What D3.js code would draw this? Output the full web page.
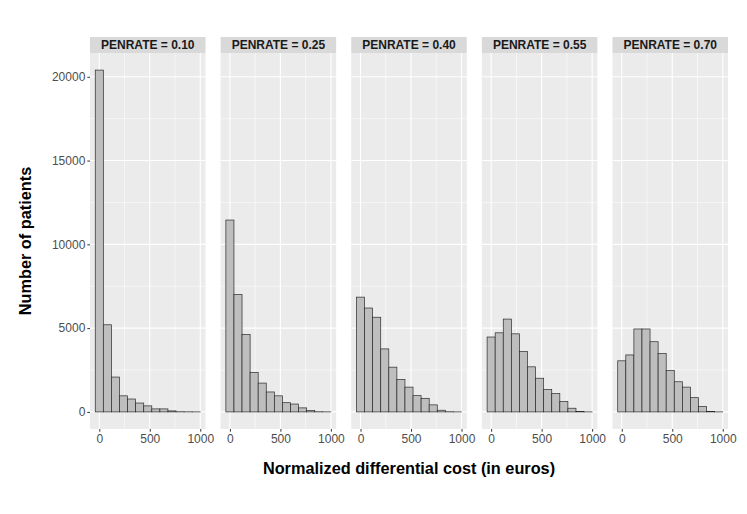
<!DOCTYPE html>
<html>
<head>
<meta charset="utf-8">
<script src="https://cdn.jsdelivr.net/npm/d3@7"></script>
<style>
  body { margin: 0; background: #fff; }
  text { font-family: "Liberation Sans", Arial, sans-serif; }
</style>
</head>
<body>
<div id="chart"></div>
<script>
// bin centres (binwidth 80)
const binCentres = [0, 80, 160, 240, 320, 400, 480, 560, 640, 720, 800, 880, 960];
const binWidth = 80;
const panels = ["PENRATE = 0.10", "PENRATE = 0.25", "PENRATE = 0.40", "PENRATE = 0.55", "PENRATE = 0.70"];

// counts per bin
const counts010 = [20400, 5200, 2080, 960, 770, 530, 360, 180, 180, 60, 10, 5, 2];
const counts025 = [11450, 7000, 4620, 2350, 1720, 1190, 960, 550, 470, 240, 80, 10, 3];
const counts040 = [6850, 6200, 5650, 3760, 2670, 1940, 1480, 970, 810, 420, 100, 10, 2];
const counts055 = [4470, 4720, 5540, 4660, 3600, 2690, 2010, 1330, 1090, 620, 220, 20, 2];
const counts070 = [3050, 3400, 4950, 4950, 4190, 3480, 2470, 1800, 1480, 850, 320, 20, 2];
const allCounts = [counts010, counts025, counts040, counts055, counts070];

const xTicks = [0, 500, 1000];
const yTicks = [0, 5000, 10000, 15000, 20000];

const W = 747, H = 514;
const margin = {top: 37, left: 90, bottom: 85, right: 19};
const stripH = 16;
const gap = 15.1;
const panelW = (W - margin.left - margin.right - 4 * gap) / 5;
const panelTop = margin.top + stripH;
const panelBottom = H - margin.bottom;

const svg = d3.select("#chart").append("svg")
    .attr("width", W)
    .attr("height", H);

// shared scales (ggplot-style 5% expansion)
const xMin = binCentres[0] - binWidth / 2, xMax = binCentres[binCentres.length - 1] + binWidth / 2;
const xPad = (xMax - xMin) * 0.05;
const x = d3.scaleLinear()
    .domain([xMin - xPad, xMax + xPad])
    .range([0, panelW]);

const yMaxVal = d3.max(allCounts, c => d3.max(c));
const yPad = yMaxVal * 0.05;
const y = d3.scaleLinear()
    .domain([-yPad, yMaxVal + yPad])
    .range([panelBottom, panelTop]);

const xMinor = [250, 750];
const yMinor = [2500, 7500, 12500, 17500];

panels.forEach((label, i) => {
    const px = margin.left + i * (panelW + gap);
    const g = svg.append("g").attr("transform", `translate(${px},0)`);

    // panel background
    g.append("rect")
        .attr("x", 0).attr("y", panelTop)
        .attr("width", panelW).attr("height", panelBottom - panelTop)
        .attr("fill", "#ebebeb");

    // minor grid
    g.selectAll(".xminor").data(xMinor).enter().append("line")
        .attr("x1", d => x(d)).attr("x2", d => x(d))
        .attr("y1", panelTop).attr("y2", panelBottom)
        .attr("stroke", "#fff").attr("stroke-width", 0.55);
    g.selectAll(".yminor").data(yMinor).enter().append("line")
        .attr("x1", 0).attr("x2", panelW)
        .attr("y1", d => y(d)).attr("y2", d => y(d))
        .attr("stroke", "#fff").attr("stroke-width", 0.55);

    // major grid
    g.selectAll(".xmajor").data(xTicks).enter().append("line")
        .attr("x1", d => x(d)).attr("x2", d => x(d))
        .attr("y1", panelTop).attr("y2", panelBottom)
        .attr("stroke", "#fff").attr("stroke-width", 1.1);
    g.selectAll(".ymajor").data(yTicks).enter().append("line")
        .attr("x1", 0).attr("x2", panelW)
        .attr("y1", d => y(d)).attr("y2", d => y(d))
        .attr("stroke", "#fff").attr("stroke-width", 1.1);

    // strip
    g.append("rect")
        .attr("x", 0).attr("y", margin.top)
        .attr("width", panelW).attr("height", stripH)
        .attr("fill", "#d9d9d9");
    g.append("text")
        .attr("x", panelW / 2).attr("y", margin.top + stripH / 2 + 4.2)
        .attr("text-anchor", "middle")
        .attr("font-size", 12).attr("font-weight", "bold")
        .attr("fill", "#1a1a1a")
        .text(label);

    // bars
    const bins = binCentres.map((c, j) => ({c: c, n: allCounts[i][j]}));
    g.selectAll(".bar").data(bins).enter().append("rect")
        .attr("class", "bar")
        .attr("x", d => x(d.c - binWidth / 2))
        .attr("width", d => x(d.c + binWidth / 2) - x(d.c - binWidth / 2))
        .attr("y", d => y(d.n))
        .attr("height", d => y(0) - y(d.n))
        .attr("fill", "#bebebe")
        .attr("stroke", "#2a2a2a")
        .attr("stroke-width", 0.7);

    // x axis
    const xAxis = g.append("g")
        .attr("transform", `translate(0,${panelBottom})`)
        .call(d3.axisBottom(x).tickValues(xTicks).tickFormat(d3.format("d")).tickSize(2.7).tickPadding(3));
    xAxis.select(".domain").remove();
    xAxis.selectAll("line").attr("stroke", "#333").attr("stroke-width", 1);
    xAxis.selectAll("text").attr("font-size", 12).attr("fill", "#4d4d4d")
        .attr("font-family", "Liberation Sans, Arial, sans-serif");

    if (i === 0) {
        const yAxis = g.append("g")
            .call(d3.axisLeft(y).tickValues(yTicks).tickFormat(d3.format("d")).tickSize(2.7).tickPadding(2));
        yAxis.select(".domain").remove();
        yAxis.selectAll("line").attr("stroke", "#333").attr("stroke-width", 1);
        yAxis.selectAll("text").attr("font-size", 12).attr("fill", "#4d4d4d")
            .attr("font-family", "Liberation Sans, Arial, sans-serif");
    }
});

// axis titles
const plotLeft = margin.left, plotRight = W - margin.right;
svg.append("text")
    .attr("x", (plotLeft + plotRight) / 2)
    .attr("y", 474)
    .attr("text-anchor", "middle")
    .attr("font-size", 16.3).attr("font-weight", "bold")
    .attr("fill", "#000")
    .text("Normalized differential cost (in euros)");

svg.append("text")
    .attr("transform", `translate(31,${(panelTop + panelBottom) / 2}) rotate(-90)`)
    .attr("text-anchor", "middle")
    .attr("font-size", 16.3).attr("font-weight", "bold")
    .attr("fill", "#000")
    .text("Number of patients");
</script>
</body>
</html>
